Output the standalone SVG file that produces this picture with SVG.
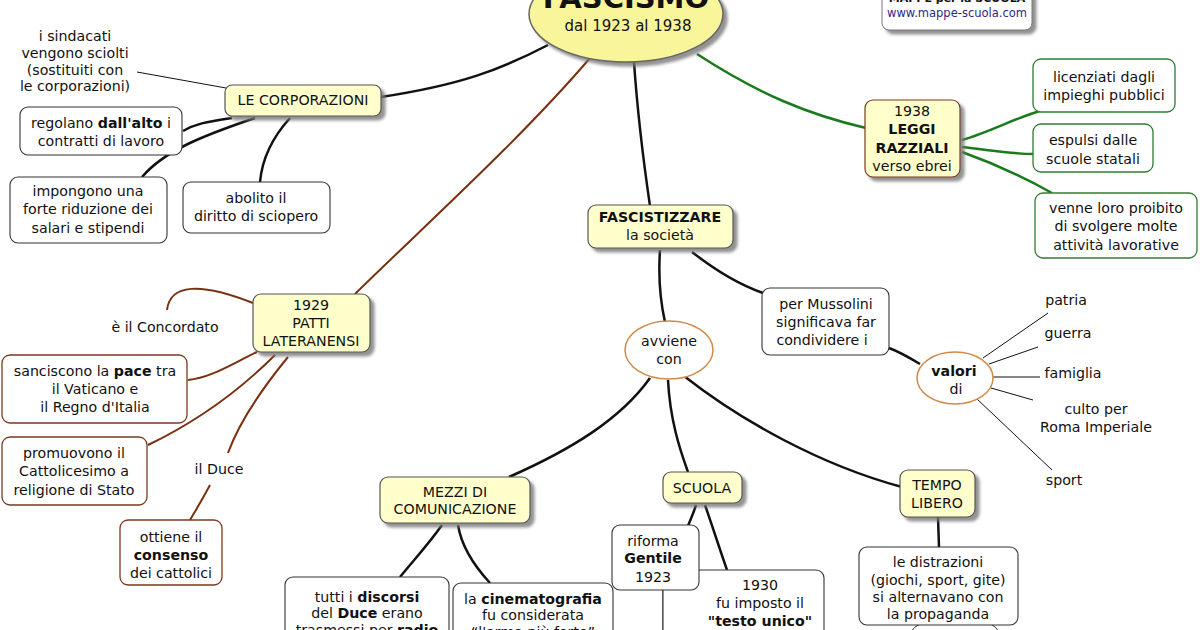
<svg xmlns="http://www.w3.org/2000/svg" width="1200" height="630" viewBox="0 0 1200 630">
<defs>
<filter id="sh" x="-20%" y="-20%" width="150%" height="160%">
<feDropShadow dx="4" dy="4" stdDeviation="1.5" flood-color="#777" flood-opacity="0.8"/>
</filter>
<style>
text{font-family:"DejaVu Sans",Verdana,sans-serif;font-size:14.2px;fill:#111;text-anchor:middle}
.b{font-weight:bold}
.y{fill:#ffffcc;stroke:#555;stroke-width:1.2}
.w{fill:#fff;stroke:#333;stroke-width:1.1}
.g{fill:#fff;stroke:#2e7d32;stroke-width:1.3}
.r{fill:#fff;stroke:#7a3a1c;stroke-width:1.3}
.o{fill:#fff;stroke:#d08a4a;stroke-width:1.5}
.c{fill:none;stroke:#111;stroke-width:2.5}
.t{fill:none;stroke:#111;stroke-width:1}
.cg{fill:none;stroke:#1b7a1b;stroke-width:2.5}
.cr{fill:none;stroke:#7a3010;stroke-width:2}
</style>
</defs>
<rect width="1200" height="630" fill="#fff"/>

<g id="connectors">
<path class="c" d="M381,97 C460,85 500,70 548,45"/>
<path class="t" d="M137,72 L226,88"/>
<path class="c" d="M232,118 C205,122 195,124 183,131"/>
<path class="c" d="M255,118 C205,135 165,150 142,177"/>
<path class="c" d="M290,118 C270,140 262,160 260,182"/>
<path class="cg" d="M697,54 C760,95 810,115 866,128"/>
<path class="cg" d="M962,140 C990,132 1015,118 1040,111"/>
<path class="cg" d="M962,147 C990,150 1010,154 1034,154"/>
<path class="cg" d="M962,152 C990,162 1025,178 1052,193"/>
<path class="c" d="M634,62 C638,120 644,165 650,206"/>
<path class="cr" d="M590,58 C520,140 420,230 355,294"/>
<path class="c" d="M660,250 C658,280 660,300 665,322"/>
<path class="c" d="M692,252 C715,270 740,285 763,293"/>
<path class="c" d="M889,348 C900,352 910,358 920,364"/>
<path class="t" d="M983,358 L1048,313"/>
<path class="t" d="M989,364 L1038,347"/>
<path class="t" d="M993,377 L1040,377"/>
<path class="t" d="M991,388 L1033,400"/>
<path class="t" d="M977,399 L1052,470"/>
<path class="cr" d="M167,310 C170,284 200,282 253,303"/>
<path class="cr" d="M257,352 C230,365 210,378 188,380"/>
<path class="cr" d="M275,355 C240,390 200,420 148,445"/>
<path class="cr" d="M288,357 C265,385 240,420 228,453"/>
<path class="cr" d="M210,485 C202,500 196,510 190,520"/>
<path class="c" d="M650,378 C620,420 570,450 509,477"/>
<path class="c" d="M668,380 C670,420 680,450 688,472"/>
<path class="c" d="M684,376 C740,420 820,465 902,487"/>
<path class="c" d="M442,525 C428,545 412,562 400,577"/>
<path class="c" d="M458,525 C462,550 478,570 490,583"/>
<path class="c" d="M696,505 C693,515 690,520 688,526"/>
<path class="c" d="M705,505 C712,525 720,550 727,570"/>
<path class="c" d="M938,517 L939,547"/>
<path class="t" d="M663,590 L663,630"/>
<path class="t" d="M921,624 C915,626 913,629 911,632"/>
<path class="t" d="M990,624 C995,626 997,629 999,632"/>
</g>

<g id="title">
<ellipse cx="626" cy="14" rx="97" ry="48" fill="#f9f59a" stroke="#666" stroke-width="1.5" filter="url(#sh)"/>
<text x="626" y="8" class="b" style="font-size:29px">FASCISMO</text>
<text x="628" y="31" style="font-size:15px">dal 1923 al 1938</text>
</g>

<g id="legend">
<rect x="882" y="-12" width="150" height="42" rx="7" fill="#fff" stroke="#777" filter="url(#sh)"/>
<text x="957" y="2" class="b" style="font-size:11px">MAPPE per la SCUOLA</text>
<text x="957" y="17" style="font-size:11.5px;fill:#2a2a8a">www.mappe-scuola.com</text>
</g>

<g id="sindacati">
<text x="75" y="41">i sindacati</text>
<text x="75" y="58">vengono sciolti</text>
<text x="75" y="75">(sostituiti con</text>
<text x="75" y="91">le corporazioni)</text>
</g>

<g id="corporazioni">
<rect class="y" x="225" y="85" width="156" height="31" rx="7" filter="url(#sh)"/>
<text x="303" y="105">LE CORPORAZIONI</text>
</g>

<g id="regolano">
<rect class="w" x="20" y="107" width="162" height="48" rx="8"/>
<text x="101" y="128">regolano <tspan class="b">dall'alto</tspan> i</text>
<text x="101" y="146">contratti di lavoro</text>
</g>

<g id="impongono">
<rect class="w" x="10" y="177" width="157" height="66" rx="8"/>
<text x="88" y="196">impongono una</text>
<text x="88" y="214">forte riduzione dei</text>
<text x="88" y="233">salari e stipendi</text>
</g>

<g id="abolito">
<rect class="w" x="183" y="182" width="147" height="51" rx="8"/>
<text x="256" y="203">abolito il</text>
<text x="256" y="221">diritto di sciopero</text>
</g>

<g id="leggi">
<rect class="y" x="865" y="100" width="95" height="77" rx="8" style="stroke:#7a3a1c" filter="url(#sh)"/>
<text x="912" y="116">1938</text>
<text x="912" y="134" class="b">LEGGI</text>
<text x="912" y="153" class="b">RAZZIALI</text>
<text x="912" y="171">verso ebrei</text>
</g>

<g id="licenziati">
<rect class="g" x="1033" y="59" width="142" height="53" rx="8"/>
<text x="1104" y="82">licenziati dagli</text>
<text x="1104" y="100">impieghi pubblici</text>
</g>

<g id="espulsi">
<rect class="g" x="1033" y="124" width="120" height="48" rx="8"/>
<text x="1093" y="145">espulsi dalle</text>
<text x="1093" y="164">scuole statali</text>
</g>

<g id="venne">
<rect class="g" x="1035" y="193" width="162" height="65" rx="8"/>
<text x="1116" y="213">venne loro proibito</text>
<text x="1116" y="231">di svolgere molte</text>
<text x="1116" y="250">attività lavorative</text>
</g>

<g id="fascistizzare">
<rect class="y" x="588" y="205" width="145" height="43" rx="8" filter="url(#sh)"/>
<text x="660" y="222" class="b">FASCISTIZZARE</text>
<text x="660" y="240">la società</text>
</g>

<g id="avviene">
<ellipse class="o" cx="669" cy="350" rx="44" ry="29"/>
<text x="669" y="346">avviene</text>
<text x="669" y="364">con</text>
</g>

<g id="mussolini">
<rect class="w" x="762" y="288" width="127" height="67" rx="8"/>
<text x="826" y="309">per Mussolini</text>
<text x="826" y="327">significava far</text>
<text x="822" y="345">condividere i</text>
</g>

<g id="valori">
<ellipse class="o" cx="955" cy="378" rx="38" ry="26"/>
<text x="954" y="376" class="b">valori</text>
<text x="956" y="394">di</text>
</g>

<g id="valori-items">
<text x="1066" y="305">patria</text>
<text x="1068" y="338">guerra</text>
<text x="1073" y="378">famiglia</text>
<text x="1096" y="414">culto per</text>
<text x="1096" y="432">Roma Imperiale</text>
<text x="1064" y="485">sport</text>
</g>

<g id="patti">
<rect class="y" x="253" y="294" width="117" height="58" rx="8" filter="url(#sh)"/>
<text x="311" y="310">1929</text>
<text x="311" y="328">PATTI</text>
<text x="311" y="346">LATERANENSI</text>
</g>

<g id="concordato">
<text x="165" y="332">è il Concordato</text>
</g>

<g id="sanciscono">
<rect class="r" x="2" y="355" width="185" height="68" rx="8"/>
<text x="95" y="376">sanciscono la <tspan class="b">pace</tspan> tra</text>
<text x="95" y="394">il Vaticano e</text>
<text x="95" y="412">il Regno d'Italia</text>
</g>

<g id="promuovono">
<rect class="r" x="2" y="437" width="145" height="68" rx="8"/>
<text x="74" y="458">promuovono il</text>
<text x="74" y="476">Cattolicesimo a</text>
<text x="74" y="495">religione di Stato</text>
</g>

<g id="duce">
<text x="219" y="474">il Duce</text>
</g>

<g id="ottiene">
<rect class="r" x="120" y="520" width="102" height="65" rx="8"/>
<text x="171" y="542">ottiene il</text>
<text x="171" y="560" class="b">consenso</text>
<text x="171" y="578">dei cattolici</text>
</g>

<g id="mezzi">
<rect class="y" x="380" y="477" width="150" height="46" rx="8" filter="url(#sh)"/>
<text x="455" y="497">MEZZI DI</text>
<text x="455" y="514">COMUNICAZIONE</text>
</g>

<g id="scuola">
<rect class="y" x="663" y="472" width="79" height="31" rx="8" filter="url(#sh)"/>
<text x="702" y="493">SCUOLA</text>
</g>

<g id="tempo">
<rect class="y" x="900" y="470" width="75" height="47" rx="8" filter="url(#sh)"/>
<text x="937" y="490">TEMPO</text>
<text x="937" y="508">LIBERO</text>
</g>

<g id="discorsi">
<rect class="w" x="285" y="577" width="164" height="70" rx="8"/>
<text x="367" y="602">tutti i <tspan class="b">discorsi</tspan></text>
<text x="367" y="618">del <tspan class="b">Duce</tspan> erano</text>
<text x="367" y="635">trasmessi per <tspan class="b">radio</tspan></text>
</g>

<g id="cinematografia">
<rect class="w" x="453" y="583" width="160" height="70" rx="8"/>
<text x="533" y="604">la <tspan class="b">cinematografia</tspan></text>
<text x="533" y="620">fu considerata</text>
<text x="533" y="637">“l'arma più forte”</text>
</g>

<g id="testo">
<rect class="w" x="663" y="570" width="161" height="75" rx="8"/>
<text x="760" y="590">1930</text>
<text x="760" y="608">fu imposto il</text>
<text x="760" y="626" class="b">"testo unico"</text>
</g>

<g id="gentile">
<rect class="w" x="612" y="525" width="87" height="65" rx="8"/>
<text x="653" y="546">riforma</text>
<text x="653" y="563" class="b">Gentile</text>
<text x="653" y="582">1923</text>
</g>

<g id="distrazioni">
<rect class="w" x="859" y="547" width="159" height="78" rx="8"/>
<text x="938" y="567">le distrazioni</text>
<text x="938" y="585">(giochi, sport, gite)</text>
<text x="938" y="602">si alternavano con</text>
<text x="938" y="619">la propaganda</text>
</g>
</svg>
